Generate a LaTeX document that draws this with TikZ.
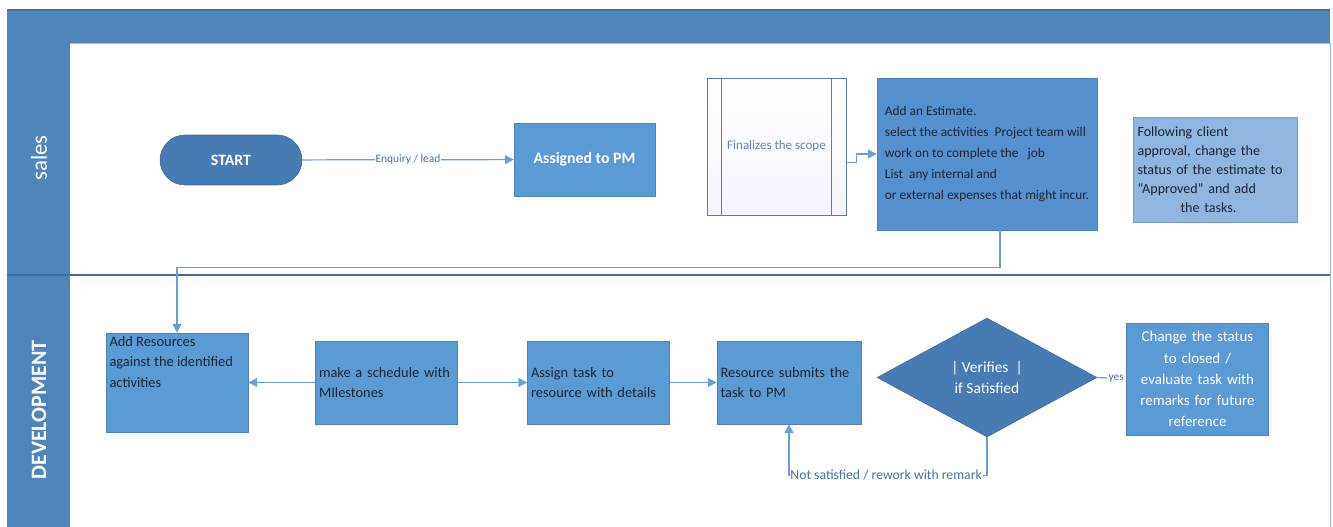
\documentclass[tikz,border=0pt]{standalone}
\usepackage{fontspec}
\setmainfont{Carlito}
\usetikzlibrary{arrows.meta,calc,positioning,shapes.geometric}
\definecolor{lane}{HTML}{4E86BC}
\definecolor{laneline}{HTML}{3F6E9E}
\definecolor{dkblue}{HTML}{477BB3}
\definecolor{box}{HTML}{5B9BD5}
\definecolor{estbox}{HTML}{5590CF}
\definecolor{ltbox}{HTML}{8FB5E1}
\definecolor{wire}{HTML}{6A9FD6}
\definecolor{lbltext}{HTML}{4472A8}
\definecolor{ink}{HTML}{1A2636}
\tikzset{
 lanebar/.style={fill=lane,draw=none},
 procbox/.style={fill=box,draw=box!85!black,line width=.3pt,inner sep=2pt,text=ink,font=\fontsize{8.2}{11.6}\selectfont},
 whitebox/.style={procbox,text=white},
 termbox/.style={fill=dkblue,draw=dkblue!85!black,line width=.3pt,rounded corners=.5cm,text=white,font=\fontsize{9}{11}\selectfont\bfseries},
 decide/.style={diamond,aspect=1.85,fill=dkblue,draw=dkblue!85!black,line width=.3pt,inner sep=0pt,text=white,font=\fontsize{8.8}{12}\selectfont,align=center},
 subproc/.style={draw=wire!80!black,line width=.4pt,top color=white,bottom color=blue!4,text=lbltext!85,font=\fontsize{7.4}{9}\selectfont},
 conn/.style={draw=wire,line width=.7pt,-{Triangle[length=5pt,width=5pt]}},
 wirelbl/.style={text=lbltext,font=\fontsize{6.5}{8}\selectfont,fill=white,inner sep=.5pt}
}
\begin{document}
\begin{tikzpicture}[x=.02cm,y=-.02cm]
\useasboundingbox (0,0) rectangle (1333,527);
% pool frame and lanes
\fill[lane] (7,10) rectangle (1330,43);
\draw[laneline,line width=.6pt] (7,10) -- (1330,10);
\fill[lane] (7,43) rectangle (70,527);
\draw[wire!70,line width=.5pt] (70,43) -- (1330,43) -- (1330,527);
\draw[laneline,line width=.6pt] (7,275) -- (1330,275);
\node[rotate=90,text=white,font=\fontsize{13}{15}\selectfont] (salesname) at (39,158) {sales};
\node[rotate=90,text=white,font=\fontsize{12.5}{15}\selectfont\bfseries] (devname) at (39,410) {DEVELOPMENT};
% sales lane
\node[termbox,minimum width=2.84cm,minimum height=1cm] (start) at (231,160) {START};
\node[whitebox,minimum width=2.82cm,minimum height=1.46cm,font=\fontsize{9}{11}\selectfont\bfseries] (pm) at (584.5,159.5) {Assigned to PM};
\node[subproc,minimum width=2.78cm,minimum height=2.74cm] (scope) at (776.5,146.5) {Finalizes the scope};
\draw[wire!80!black,line width=.4pt] ($(scope.north west)+(15,0)$) -- ($(scope.south west)+(15,0)$)
 ($(scope.north east)+(-15,0)$) -- ($(scope.south east)+(-15,0)$);
\node[procbox,fill=estbox,minimum width=4.4cm,minimum height=3.04cm,align=left,font=\fontsize{7.6}{11.9}\selectfont] (estimate) at (987,154)
 {Add an Estimate.\\select the activities\ \ Project team will\\work on to complete the\ \ \ job\\List\ \ any internal and\\or external expenses that might incur.};
\node[procbox,fill=ltbox,draw=ltbox!85!black,minimum width=3.28cm,minimum height=2.1cm,text width=3.1cm,align=left,font=\fontsize{8}{10.8}\selectfont] (approval) at (1215,169.5)
 {Following client\\approval, change the\\status of the estimate to\\``Approved'' and add\\\hspace*{.86cm}the tasks.};
% development lane
\node[procbox,minimum width=2.8cm,minimum height=1.98cm] (resources) at (177,382.5)
 {\parbox[c][1.84cm][t]{2.7cm}{\raggedright Add Resources\\against the identified\\activities}};
\node[procbox,minimum height=1.66cm,text width=2.7cm,align=left] (schedule) at (386.5,382.5) {make a schedule with\\MIlestones};
\node[procbox,minimum height=1.66cm,text width=2.7cm,align=left] (assign) at (598.5,382.5) {Assign task to\\resource with details};
\node[procbox,minimum height=1.66cm,text width=2.74cm,align=left] (submit) at (789,382.5) {Resource submits the\\task to PM};
\node[decide,minimum width=4.4cm,minimum height=2.38cm] (verify) at (987,377.5) {| Verifies\ \ |\\if Satisfied};
\node[whitebox,minimum width=2.82cm,minimum height=2.24cm,text width=2.7cm,align=center,font=\fontsize{8.5}{12}\selectfont] (closed) at (1197.5,379)
 {Change the status\\to closed /\\evaluate task with\\remarks for future\\reference};
% connectors
\draw[conn] (start) -- node[wirelbl] (enquiry) {Enquiry / lead} (pm);
\draw[conn] ($(scope.east)+(0,16)$) -- ++(10,0) |- (estimate.west);
\draw[conn] ($(estimate.south)+(13,0)$) -- ++(0,37) -| (resources.north);
\draw[conn] (schedule) -- (resources);
\draw[conn] (schedule) -- (assign);
\draw[conn] (assign) -- (submit);
\draw[draw=wire,line width=.7pt] (verify.east) -- (closed.west) node[wirelbl,pos=1,anchor=east,inner sep=1pt] (yes) {yes};
\draw[conn] (verify.south) -- ++(0,38) coordinate (turn) -| (submit.south);
\node[wirelbl,anchor=east,font=\fontsize{7.8}{9}\selectfont] (rework) at ($(turn)+(-4,0)$) {Not satisfied / rework with remark};
\end{tikzpicture}
\end{document}
